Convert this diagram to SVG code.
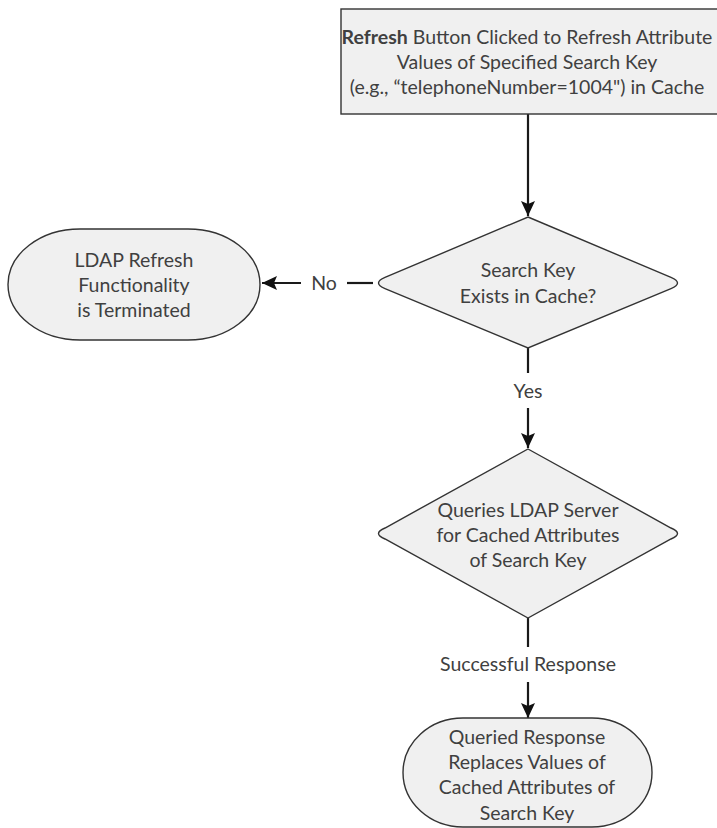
<svg xmlns="http://www.w3.org/2000/svg" width="717" height="828" viewBox="0 0 717 828">
<style>
  .shape { fill: #f0f0f0; stroke: #333333; stroke-width: 1.4; }
  .t { font-family: Lato, "Liberation Sans", sans-serif; font-size: 19.5px; fill: #404040; text-anchor: middle; }
  .b { font-weight: bold; }
  .conn { stroke: #1a1a1a; stroke-width: 2.2; fill: none; }
  .arr { marker-end: url(#ah); }
</style>
<defs>
  <marker id="ah" markerUnits="userSpaceOnUse" markerWidth="16" markerHeight="14" refX="15" refY="7" orient="auto">
    <path d="M0,0 L15,7 L0,14 L3,7 z" fill="#111111"/>
  </marker>
</defs>
<rect width="717" height="828" fill="#ffffff"/>

<g id="connectors">
  <line class="conn arr" x1="528" y1="114" x2="528" y2="216"/>
  <line class="conn" x1="373" y1="283" x2="347" y2="283"/>
  <line class="conn arr" x1="301" y1="283" x2="262" y2="283"/>
  <text class="t" x="324" y="290">No</text>
  <line class="conn" x1="528" y1="348" x2="528" y2="373"/>
  <text class="t" x="528" y="398">Yes</text>
  <line class="conn arr" x1="528" y1="408" x2="528" y2="448"/>
  <line class="conn" x1="528" y1="618" x2="528" y2="647"/>
  <text class="t" x="528" y="671">Successful Response</text>
  <line class="conn arr" x1="528" y1="682" x2="528" y2="718"/>
</g>

<g id="start">
  <rect class="shape" x="341" y="9" width="380" height="105" stroke-width="2"/>
  <text class="t" x="527" y="44"><tspan class="b">Refresh</tspan> Button Clicked to Refresh Attribute</text>
  <text class="t" x="527" y="69">Values of Specified Search Key</text>
  <text class="t" x="527" y="94">(e.g., “telephoneNumber=1004") in Cache</text>
</g>

<g id="decision1">
  <path class="shape" d="M528,217 L671,277.4 Q684,283 671,288.6 L528,348 L385,288.6 Q372,283 385,277.4 Z"/>
  <text class="t" x="528" y="277">Search Key</text>
  <text class="t" x="528" y="303">Exists in Cache?</text>
</g>

<g id="terminated">
  <rect class="shape" x="8" y="229" width="252" height="111" rx="72" ry="55.5"/>
  <text class="t" x="134" y="267">LDAP Refresh</text>
  <text class="t" x="134" y="292">Functionality</text>
  <text class="t" x="134" y="317">is Terminated</text>
</g>

<g id="decision2">
  <path class="shape" d="M528,449 L671,528 Q684,533.5 671,539 L528,618 L385,539 Q372,533.5 385,528 Z"/>
  <text class="t" x="528" y="517">Queries LDAP Server</text>
  <text class="t" x="528" y="542">for Cached Attributes</text>
  <text class="t" x="528" y="567">of Search Key</text>
</g>

<g id="replaced">
  <rect class="shape" x="403" y="718" width="249" height="109" rx="60" ry="54.5"/>
  <text class="t" x="527" y="744">Queried Response</text>
  <text class="t" x="527" y="769">Replaces Values of</text>
  <text class="t" x="527" y="794">Cached Attributes of</text>
  <text class="t" x="527" y="820">Search Key</text>
</g>
</svg>
